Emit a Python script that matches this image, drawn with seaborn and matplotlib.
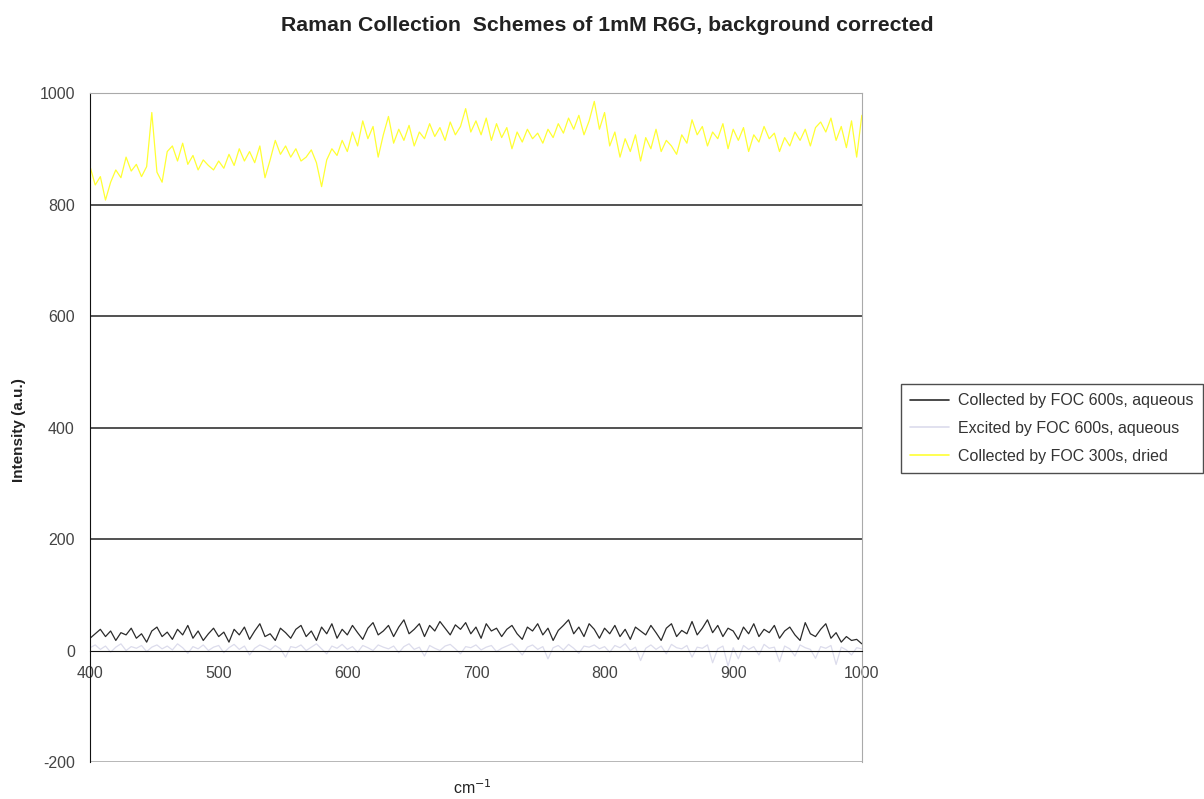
import numpy as np
import pandas as pd
import matplotlib
matplotlib.use("Agg")
import matplotlib.pyplot as plt
import seaborn as sns

sns.set_style("white")
plt.rcParams['font.family'] = ['Liberation Sans', 'DejaVu Sans']
plt.rcParams['axes.unicode_minus'] = False

# wavenumber grid (cm-1), every 4 cm-1 from 400 to 1000
wavenumber = np.arange(400, 1001, 4)

# Collected by FOC 600s, aqueous (dark trace)
collected_600 = [
    22, 30, 38, 25, 35, 18, 32, 28, 40, 22, 30, 15, 35, 42, 25, 33, 20, 38, 28, 45,
    22, 35, 18, 30, 40, 25, 33, 15, 38, 28, 42, 20, 35, 48, 25, 30, 18, 40, 32, 22,
    38, 45, 25, 35, 18, 42, 30, 48, 22, 38, 28, 45, 32, 20, 40, 50, 28, 35, 45, 25,
    42, 55, 30, 38, 48, 25, 45, 35, 52, 40, 28, 46, 38, 50, 30, 42, 22, 48, 35, 40,
    25, 38, 45, 30, 20, 42, 35, 48, 28, 40, 18, 36, 45, 55, 30, 42, 25, 48, 38, 22,
    40, 30, 45, 25, 38, 20, 42, 35, 28, 45, 32, 18, 40, 48, 25, 36, 30, 52, 28, 40,
    55, 32, 45, 25, 40, 35, 20, 42, 30, 48, 25, 38, 32, 45, 22, 35, 42, 28, 18, 50,
    30, 25, 38, 48, 22, 32, 15, 25, 18, 20, 12,
]

# Excited by FOC 600s, aqueous (very pale trace near zero)
excited_600 = [
    5, 10, 2, 8, -3, 6, 12, 0, 7, 4, 9, -2, 6, 10, 3, 8, 1, 12, 5, -5,
    7, 3, 10, 0, 6, 9, -4, 5, 11, 2, 8, -8, 4, 10, 6, 1, 9, 3, -12, 7,
    5, 10, 0, 6, 12, 3, -6, 8, 4, 11, 2, 7, -3, 9, 5, 0, 10, 6, 3, 8,
    -4, 7, 12, 2, 6, -10, 9, 4, 0, 8, 11, 3, -6, 7, 5, 10, 1, 6, 9, -2,
    4, 8, 12, 3, -8, 6, 10, 2, 7, -15, 5, 9, 1, 11, 4, -5, 8, 6, 10, 3,
    7, -3, 9, 5, 12, 0, 6, -18, 4, 10, 2, 8, -6, 11, 5, 3, 9, -12, 6, 4,
    10, -22, 3, 8, -28, 5, -15, 9, 2, 7, -8, 11, 4, 6, -20, 8, 3, -10, 10, 5,
    2, -14, 7, 4, 9, -25, 6, 1, -8, 5, 3,
]

# Collected by FOC 300s, dried (yellow trace)
collected_300_dried = [
    868, 835, 850, 808, 840, 862, 848, 885, 860, 872, 850, 868, 965, 858, 840, 895, 905, 878, 910, 872,
    888, 862, 880, 870, 862, 878, 865, 890, 870, 900, 878, 895, 875, 905, 848, 880, 915, 890, 905, 885,
    900, 878, 885, 898, 875, 832, 880, 900, 888, 915, 895, 930, 905, 950, 918, 940, 885, 925, 958, 910,
    935, 915, 942, 905, 930, 918, 945, 922, 938, 915, 948, 925, 940, 972, 930, 950, 925, 955, 915, 945,
    920, 938, 900, 930, 912, 935, 918, 928, 910, 935, 920, 945, 928, 955, 935, 960, 925, 950, 985, 935,
    965, 905, 930, 885, 918, 895, 925, 878, 920, 900, 935, 895, 915, 905, 890, 925, 910, 952, 925, 940,
    905, 930, 918, 945, 900, 935, 915, 938, 895, 925, 912, 940, 918, 928, 895, 920, 905, 930, 915, 935,
    905, 938, 948, 930, 955, 915, 940, 902, 950, 885, 960,
]

labels = ["Collected by FOC 600s, aqueous",
          "Excited by FOC 600s, aqueous",
          "Collected by FOC 300s, dried"]
colors = ["#2b2b2b", "#dcdcec", "#ffff33"]

df = pd.DataFrame({"wavenumber": wavenumber,
                   labels[0]: collected_600,
                   labels[1]: excited_600,
                   labels[2]: collected_300_dried})
long_df = df.melt(id_vars="wavenumber", var_name="series", value_name="intensity")

fig = plt.figure(figsize=(12.04, 7.99), dpi=100)
ax = fig.add_axes([0.0748, 0.0463, 0.641, 0.8373])

sns.lineplot(data=long_df, x="wavenumber", y="intensity", hue="series",
             hue_order=labels, palette=colors, linewidth=0.9, ax=ax, legend=False)

ax.set_xlim(400, 1000)
ax.set_ylim(-200, 1000)
ax.set_yticks(range(-200, 1001, 200))
ax.set_xticks(range(400, 1001, 100))

# gridlines like the excel chart
for yv in [200, 400, 600, 800]:
    ax.axhline(yv, color="#222222", linewidth=1.1, zorder=0)
ax.axhline(-200, color="#aaaaaa", linewidth=1.2, zorder=0)

ax.spines['bottom'].set_position(('data', 0))
ax.spines['bottom'].set_color("#111111")
ax.spines['left'].set_color("#111111")
ax.spines['top'].set_color("#aaaaaa")
ax.spines['right'].set_color("#aaaaaa")

ax.tick_params(axis='x', direction='inout', length=7, width=1, colors="#111111",
               labelcolor="#444444", labelsize=11.5, pad=8)
ax.tick_params(axis='y', direction='out', length=5, width=1, colors="#111111",
               labelcolor="#444444", labelsize=11.5, pad=6)

ax.set_xlabel("")
ax.set_ylabel("")
fig.text(0.392, 0.002, "cm$^{\\mathrm{-1}}$", ha="center", va="bottom", fontsize=11.5, color="#222222")
fig.text(0.016, 0.462, "Intensity (a.u.)", ha="center", va="center", rotation=90,
         fontsize=11, fontweight="bold", color="#222222")

fig.text(0.504, 0.968, "Raman Collection  Schemes of 1mM R6G, background corrected",
         ha="center", va="center", fontsize=15.3, fontweight="bold", color="#222222")

handles = [plt.Line2D([], [], color=c, linewidth=1.2) for c in colors]
leg = fig.legend(handles, labels, loc="upper left", bbox_to_anchor=(0.748, 0.52),
                 borderaxespad=0, fontsize=11.5, frameon=True, fancybox=False,
                 edgecolor="#222222", handlelength=2.4, handletextpad=0.6,
                 labelspacing=0.8, borderpad=0.6)
leg.get_frame().set_linewidth(1.0)
for t in leg.get_texts():
    t.set_color("#333333")

fig.savefig("out.png", dpi=100)
